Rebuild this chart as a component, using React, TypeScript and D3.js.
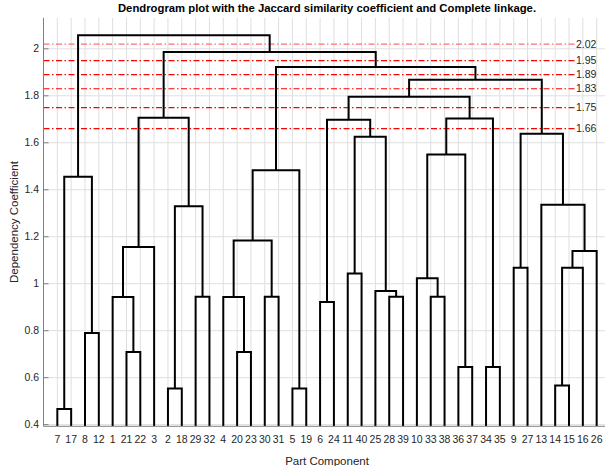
import React from "react";
import * as d3 from "d3";

const W = 605;
const H = 466;

const leafOrder = [7, 17, 8, 12, 1, 21, 22, 3, 2, 18, 29, 32, 4, 20, 23, 30, 31, 5, 19, 6, 24, 11, 40, 25, 28, 39, 10, 33, 38, 36, 37, 34, 35, 9, 27, 13, 14, 15, 16, 26];

// linkage: children are "Lk" (leaf k) or "Mi" (merge i)
const mergeLeft = [
  "L7", "L8", "M0",
  "L21", "L1", "M4", "L2", "L29", "M6", "M5",
  "L20", "L4", "L30", "M11", "L5", "M13",
  "L6", "L11", "L28", "L25", "M17", "M16",
  "L33", "L10", "L36", "M23", "L34", "M25",
  "M21",
  "L9", "L14", "M30", "M31", "L13", "M29",
  "M28", "M15", "M9", "M2",
];
const mergeRight = [
  "L17", "L12", "M1",
  "L22", "M3", "L3", "L18", "L32", "M7", "M8",
  "L23", "M10", "L31", "M12", "L19", "M14",
  "L24", "L40", "L39", "M18", "M19", "M20",
  "L38", "M22", "L37", "M24", "L35", "M26",
  "M27",
  "L27", "L15", "L16", "L26", "M32", "M33",
  "M34", "M35", "M36", "M37",
];
const mergeHeight = [
  0.467, 0.79, 1.455,
  0.709, 0.943, 1.156, 0.554, 0.945, 1.33, 1.706,
  0.709, 0.943, 0.945, 1.184, 0.554, 1.483,
  0.922, 1.043, 0.945, 0.969, 1.626, 1.698,
  0.945, 1.023, 0.645, 1.55, 0.645, 1.703,
  1.796,
  1.068, 0.567, 1.068, 1.139, 1.336, 1.638,
  1.868, 1.923, 1.986, 2.058,
];

const cutValues = [2.02, 1.95, 1.89, 1.83, 1.75, 1.66];
const cutLabels = ["2.02", "1.95", "1.89", "1.83", "1.75", "1.66"];
const yTicks = [0.4, 0.6, 0.8, 1, 1.2, 1.4, 1.6, 1.8, 2];
const yTickLabels = ["0.4", "0.6", "0.8", "1", "1.2", "1.4", "1.6", "1.8", "2"];

export default function App() {
  const left = 43.5;
  const right = 610.5;
  const top = 17.8;
  const bottom = 426.3;

  const x = d3.scaleLinear().domain([0, leafOrder.length + 1]).range([left, right]);
  const y = d3.scaleLinear().domain([0.393, 2.132]).range([bottom, top]);

  const nodeX: Record<string, number> = {};
  const nodeY: Record<string, number> = {};
  leafOrder.forEach((l, i) => {
    nodeX["L" + l] = x(i + 1);
    nodeY["L" + l] = bottom;
  });

  const paths: string[] = [];
  mergeHeight.forEach((h, i) => {
    const a = mergeLeft[i];
    const b = mergeRight[i];
    const xa = nodeX[a];
    const xb = nodeX[b];
    const ya = nodeY[a];
    const yb = nodeY[b];
    const yh = y(h);
    const p = d3.path();
    p.moveTo(xa, ya);
    p.lineTo(xa, yh);
    p.lineTo(xb, yh);
    p.lineTo(xb, yb);
    paths.push(p.toString());
    nodeX["M" + i] = (xa + xb) / 2;
    nodeY["M" + i] = yh;
  });

  const font = "'Liberation Sans', Arial, Helvetica, sans-serif";
  const textColor = "#262626";

  return (
    <svg width={W} height={H} style={{ position: "absolute", left: 0, top: 0, background: "#fff" }} fontFamily={font}>
      <defs>
        <clipPath id="plotClip">
          <rect x={left} y={top} width={W - left} height={bottom - top} />
        </clipPath>
      </defs>
      <rect x={0} y={0} width={W} height={H} fill="#fff" />
      {/* grid */}
      <g stroke="#dfdfdf" strokeWidth={1}>
        {yTicks.map((t) => (
          <line key={"gy" + t} x1={left} x2={W} y1={y(t)} y2={y(t)} />
        ))}
        {leafOrder.map((l, i) => (
          <line key={"gx" + l} x1={x(i + 1)} x2={x(i + 1)} y1={top} y2={bottom} />
        ))}
      </g>
      {/* cut lines */}
      <g>
        {cutValues.map((v, i) => (
          <g key={"cut" + v}>
            <line
              x1={left}
              x2={575}
              y1={y(v)}
              y2={y(v)}
              stroke={i === 0 ? "#ff6e6e" : "#ff0000"}
              strokeWidth={1.2}
              strokeDasharray="6,2.5,1.5,2.5"
            />
            <text x={576} y={y(v)} dy="0.35em" fontSize={10.5} fill={textColor}>
              {cutLabels[i]}
            </text>
          </g>
        ))}
      </g>
      {/* dendrogram */}
      <g clipPath="url(#plotClip)" fill="none" stroke="#000" strokeWidth={2}>
        {paths.map((d, i) => (
          <path key={"p" + i} d={d} />
        ))}
      </g>
      {/* axes */}
      <g stroke="#808080" strokeWidth={1}>
        <line x1={left} x2={left} y1={top} y2={bottom} />
        <line x1={left} x2={W} y1={bottom} y2={bottom} />
        {yTicks.map((t) => (
          <line key={"ty" + t} x1={left} x2={left + 5} y1={y(t)} y2={y(t)} />
        ))}
      </g>
      {/* y tick labels */}
      {yTicks.map((t, i) => (
        <text key={"yl" + t} x={39} y={y(t)} dy="0.35em" textAnchor="end" fontSize={10.5} fill={textColor}>
          {yTickLabels[i]}
        </text>
      ))}
      {/* leaf labels */}
      {leafOrder.map((l, i) => (
        <text key={"xl" + l} x={x(i + 1)} y={443} textAnchor="middle" fontSize={10.5} fill={textColor}>
          {String(l)}
        </text>
      ))}
      <text x={(left + right) / 2} y={465} textAnchor="middle" fontSize={11.5} fill={textColor}>
        Part Component
      </text>
      <text
        transform={`translate(18,${(top + bottom) / 2}) rotate(-90)`}
        textAnchor="middle"
        fontSize={11.5}
        fill={textColor}
      >
        Dependency Coefficient
      </text>
      <text x={(left + right) / 2} y={11.5} textAnchor="middle" fontSize={11.3} fontWeight="bold" fill="#000">
        Dendrogram plot with the Jaccard similarity coefficient and Complete linkage.
      </text>
    </svg>
  );
}
